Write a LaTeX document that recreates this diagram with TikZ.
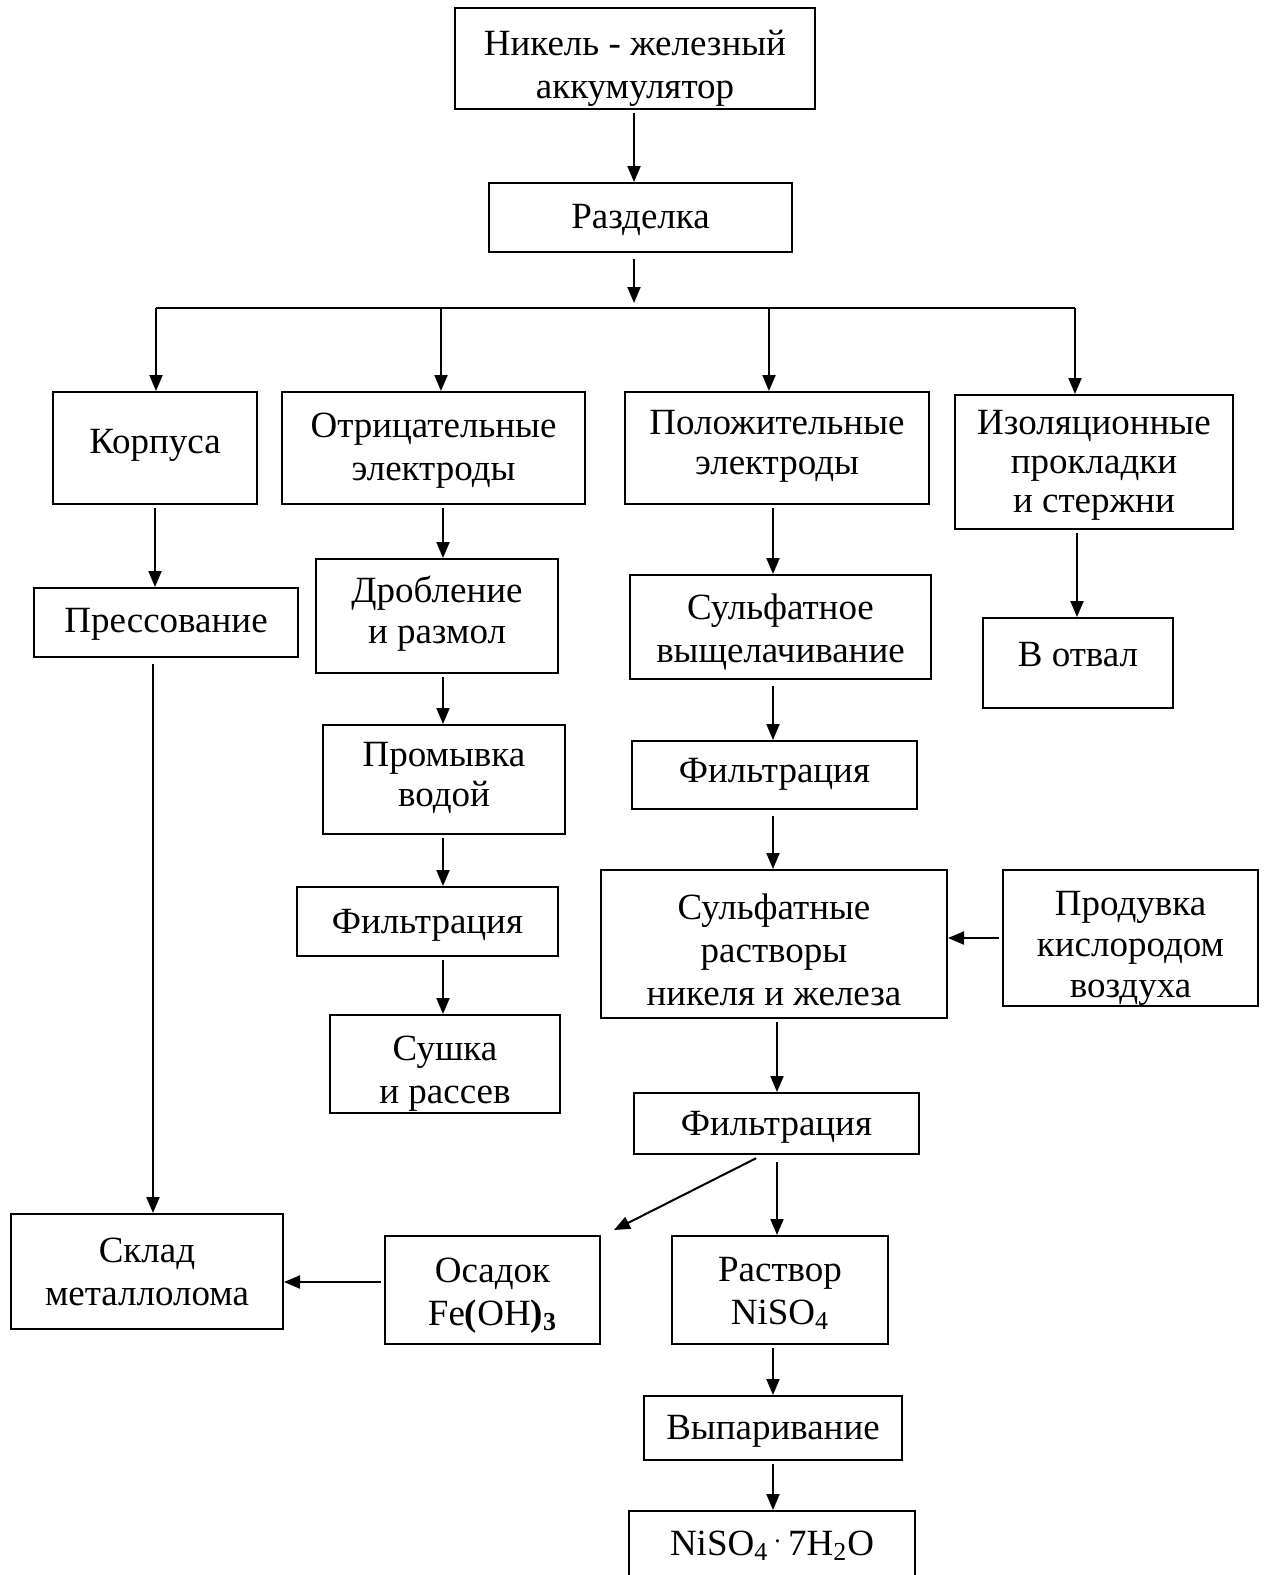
\documentclass[tikz,border=0pt]{standalone}
\usepackage{fontspec}
\setmainfont{Liberation Serif}
\usetikzlibrary{arrows.meta}
\newcommand\bx[7]{%
  \pgfmathsetmacro\bxw{(#4-#2)*0.5}%
  \pgfmathsetmacro\bxh{(#5-#3)*0.5}%
  \node[box,minimum width=\bxw pt,minimum height=\bxh pt,
    label={[lab,#6]center:{#7}}] (#1) at ({(#2+#4)/2},{(#3+#5)/2}) {};}
\begin{document}
\begin{tikzpicture}[x=0.5pt,y=-0.5pt,
  box/.style={draw,line width=1pt,inner sep=0pt},
  lab/.style={font=\fontsize{18.5}{21.5}\selectfont,align=center,inner sep=0pt,yshift=-1.2pt},
  ls/.style={font=\fontsize{18.5}{#1}\selectfont},
  arr/.style={line width=1pt,shorten <=1.5pt,-{Triangle[length=8pt,width=6.5pt]}},
  ln/.style={line width=1pt}]
\useasboundingbox (0,0) rectangle (1264,1575);
\fill[white] (0,0) rectangle (1264,1575);
\begin{scope}
\clip (0,0) rectangle (1264,1575);
\bx{top}{455}{8}{815}{109}{yshift=-3.5pt}{Никель - железный\\аккумулятор}
\bx{razd}{489}{183}{792}{252}{}{Разделка}
\bx{korp}{53}{392}{257}{504}{yshift=2.5pt}{Корпуса}
\bx{otr}{282}{392}{585}{504}{}{Отрицательные\\электроды}
\bx{polo}{625}{392}{929}{504}{yshift=2pt,ls=20}{Положительные\\электроды}
\bx{izol}{955}{395}{1233}{529}{yshift=-0.5pt,ls=19.6}{Изоляционные\\прокладки\\и стержни}
\bx{pres}{34}{588}{298}{657}{yshift=0.5pt}{Прессование}
\bx{drob}{316}{559}{558}{673}{yshift=2.5pt,ls=20.5}{Дробление\\и размол}
\bx{sulf}{630}{575}{931}{679}{yshift=-1.5pt}{Сульфатное\\выщелачивание}
\bx{votv}{983}{618}{1173}{708}{yshift=5.5pt}{В отвал}
\bx{prom}{323}{725}{565}{834}{yshift=2pt,ls=20}{Промывка\\водой}
\bx{filtL}{297}{887}{558}{956}{yshift=-0.5pt}{Фильтрация}
\bx{sush}{330}{1015}{560}{1113}{yshift=-3.5pt}{Сушка\\и рассев}
\bx{filtR}{632}{741}{917}{809}{yshift=1.5pt}{Фильтрация}
\bx{rast}{601}{870}{947}{1018}{yshift=-1.5pt}{Сульфатные\\растворы\\никеля и железа}
\bx{prod}{1003}{870}{1258}{1006}{yshift=-4pt,ls=20.5}{Продувка\\кислородом\\воздуха}
\bx{filt2}{634}{1093}{919}{1154}{yshift=-0.5pt}{Фильтрация}
\bx{sklad}{11}{1214}{283}{1329}{yshift=1pt}{Склад\\металлолома}
\bx{osad}{385}{1236}{600}{1344}{yshift=-1.5pt}{Осадок\\Fe\textbf{(}OH\textbf{)}\textsubscript{\textbf{3}}}
\bx{rvor}{672}{1236}{888}{1344}{yshift=-0.5pt}{Раствор\\NiSO\textsubscript{4}}
\bx{vyp}{644}{1396}{902}{1460}{yshift=-0.5pt}{Выпаривание}
\bx{fin}{629}{1511}{915}{1600}{yshift=6.25pt}{NiSO\textsubscript{4}\,\textsuperscript{.}\,7H\textsubscript{2}O}
\end{scope}
% column coordinates
\coordinate (c0) at (634,0);
\coordinate (c1) at (155,0);
\coordinate (c1b) at (153,0);
\coordinate (c2) at (443,0);
\coordinate (c3) at (773,0);
\coordinate (c3b) at (777,0);
\coordinate (c4) at (1077,0);
\coordinate (bus) at (634,308);
\coordinate (hL) at (156,308);
\coordinate (hR) at (1075,308);
\coordinate (b2) at (441,308);
\coordinate (b3) at (769,308);
% connectors
\draw[arr] (top.south -| c0) -- (razd.north -| c0);
\draw[arr,shorten <=3pt,shorten >=2.5pt] (razd.south -| bus) -- (bus);
\draw[ln] (hL) -- (hR);
\draw[arr,shorten <=0pt] (hL) -- (hL |- korp.north);
\draw[arr,shorten <=0pt] (b2) -- (b2 |- otr.north);
\draw[arr,shorten <=0pt] (b3) -- (b3 |- polo.north);
\draw[arr,shorten <=0pt] (hR) -- (hR |- izol.north);
\draw[arr] (korp.south -| c1) -- (pres.north -| c1);
\draw[arr,shorten <=3pt] (pres.south -| c1b) -- (sklad.north -| c1b);
\draw[arr] (otr.south -| c2) -- (drob.north -| c2);
\draw[arr] (drob.south -| c2) -- (prom.north -| c2);
\draw[arr] (prom.south -| c2) -- (filtL.north -| c2);
\draw[arr] (filtL.south -| c2) -- (sush.north -| c2);
\draw[arr] (polo.south -| c3) -- (sulf.north -| c3);
\draw[arr,shorten <=3pt] (sulf.south -| c3) -- (filtR.north -| c3);
\draw[arr,shorten <=3pt] (filtR.south -| c3) -- (rast.north -| c3);
\draw[arr] (izol.south -| c4) -- (votv.north -| c4);
\draw[arr] (prod.west) -- (prod.west -| rast.east);
\draw[arr] (rast.south -| c3b) -- (filt2.north -| c3b);
\draw[arr,shorten <=3.5pt] (filt2.south -| c3b) -- (rvor.north -| c3b);
\draw[arr,shorten <=3.5pt] ([xshift=-7pt]filt2.south) -- ([xshift=6.5pt,yshift=2.5pt]osad.north east);
\draw[arr] (rvor.south -| c3) -- (vyp.north -| c3);
\draw[arr] (vyp.south -| c3) -- (fin.north -| c3);
\draw[arr] ([yshift=4pt]osad.west) -- ([yshift=4pt]osad.west -| sklad.east);
\end{tikzpicture}
\end{document}
